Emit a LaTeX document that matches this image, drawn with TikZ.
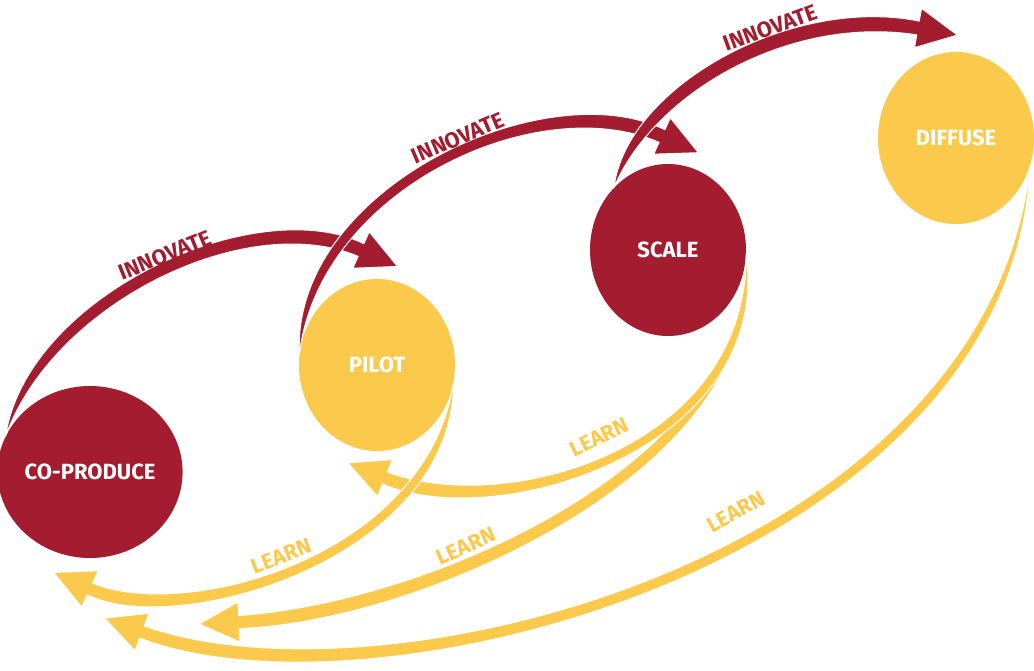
\documentclass[tikz,border=0pt]{standalone}
\usepackage{fontspec}
\setmainfont{Fira Sans}
\usetikzlibrary{calc,shapes.geometric}
\definecolor{cred}{HTML}{A31C2F}
\definecolor{cyel}{HTML}{FBC94C}
% #1 colour, #2 start, #3 control 1, #4 control 2, #5 arrow-head base, #6 half width
\newcommand\taperarrow[6]{%
  \fill[#1, draw=white, line width=1pt, line join=round]
    (#2) .. controls ($(#3)!2*#6!90:(#2)$) and ($(#4)!#6+3pt!-90:(#5)$) .. ($(#5)!#6!90:(#4)$)
    -- ($(#5)!20pt!90:(#4)$) -- ($(#5)!40pt!180:(#4)$) -- ($(#5)!20pt!-90:(#4)$)
    -- ($(#5)!#6!-90:(#4)$)
    .. controls ($(#4)!#6+3pt!90:(#5)$) and ($(#3)!2*#6!-90:(#2)$) .. (#2) -- cycle;}
\tikzset{
  circ/.style={ellipse, minimum width=156pt, minimum height=172pt, inner sep=0pt,
    text=white, font=\fontsize{22}{22}\selectfont\bfseries},
  inno/.style={text=cred, inner sep=0pt, font=\fontsize{22}{22}\selectfont\bfseries},
  learn/.style={text=cyel, inner sep=0pt, font=\fontsize{21.5}{21.5}\selectfont\bfseries}
}
\begin{document}
\begin{tikzpicture}[x=1pt,y=-1pt]
\fill[white] (0,0) rectangle (1034,670);
\useasboundingbox (0,0) rectangle (1034,670);
% stages
\node[circ, fill=cred] (cp) at (90,472) {CO-PRODUCE};
\node[circ, fill=cyel] (pilot) at (377,365) {PILOT};
\node[circ, fill=cred] (scale) at (668,250) {SCALE};
\node[circ, fill=cyel] (diffuse) at (956,138) {DIFFUSE};
% control points and free ends
\coordinate (r1a) at (40,300);   \coordinate (r1b) at (250,200);  \coordinate (r1e) at (361,250);
\coordinate (r2a) at (305,190);  \coordinate (r2b) at (540,80);   \coordinate (r2e) at (662,136);
\coordinate (r3a) at (640,90);   \coordinate (r3b) at (790,5);    \coordinate (r3e) at (918,28);
\coordinate (y1a) at (440,560);  \coordinate (y1b) at (180,630);  \coordinate (y1e) at (90,589);
\coordinate (y2a) at (760,450);  \coordinate (y2b) at (500,525);  \coordinate (y2e) at (385,478);
\coordinate (y3a) at (755,470);  \coordinate (y3b) at (420,613);  \coordinate (y3e) at (239,622);
\coordinate (y4a) at (1000,560); \coordinate (y4b) at (380,720);  \coordinate (y4e) at (142,632);
% learn arrows
\taperarrow{cyel}{diffuse.-20}{y4a}{y4b}{y4e}{6.5pt}
\taperarrow{cyel}{scale.-8}{y3a}{y3b}{y3e}{6.5pt}
\taperarrow{cyel}{scale.-3}{y2a}{y2b}{y2e}{6.5pt}
\taperarrow{cyel}{pilot.-12}{y1a}{y1b}{y1e}{6.5pt}
% innovate arrows
\taperarrow{cred}{cp.157}{r1a}{r1b}{r1e}{7pt}
\taperarrow{cred}{pilot.172}{r2a}{r2b}{r2e}{7pt}
\taperarrow{cred}{scale.131}{r3a}{r3b}{r3e}{7pt}
% labels
\node[inno, rotate=22] (i1) at (165,255) {INNOVATE};
\node[inno, rotate=23] (i2) at (458,138) {INNOVATE};
\node[inno, rotate=20] (i3) at (770,28) {INNOVATE};
\node[learn, rotate=21] (l1) at (281,556) {LEARN};
\node[learn, rotate=26] (l2) at (599,437) {LEARN};
\node[learn, rotate=24] (l3) at (466,546) {LEARN};
\node[learn, rotate=29] (l4) at (736,512) {LEARN};
\end{tikzpicture}
\end{document}
